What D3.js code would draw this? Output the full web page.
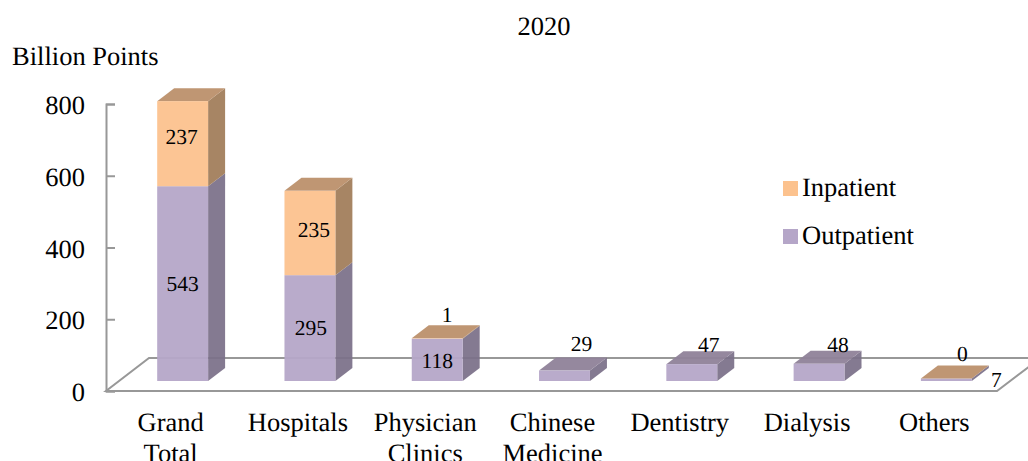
<!DOCTYPE html>
<html><head><meta charset="utf-8">
<script src="https://cdn.jsdelivr.net/npm/d3@7"></script>
<style>html,body{margin:0;padding:0;background:#fff;overflow:hidden}svg{display:block}text{font-family:"Liberation Serif",serif;fill:#000;text-rendering:geometricPrecision}</style>
</head><body><svg id="c" width="1028" height="461"></svg>
<script>
const categories = ["Grand Total","Hospitals","Physician Clinics","Chinese Medicine","Dentistry","Dialysis","Others"];
const outpatient = [543,295,118,29,47,48,7];
const inpatient = [237,235,1,null,null,null,0];
const yTicks = [0,200,400,600,800];
const chartTitle = "2020";
const unitLabel = "Billion Points";

// layout of the labels relative to their default place: [dx, dy]
const outNudge = [[0,0],[1,-1],[0,1],[17,-32],[17,-28],[19,-28],[50,0]];
const inNudge = [[-1,-7],[4,-4],[10,-24],[0,0],[0,0],[0,0],[16,-25]];

const svg = d3.select("#c");
const W=1028, lift=10, dx=17, dy=13;
const y = d3.scaleLinear().domain([0,800]).range([391,104]);
const x = d3.scaleBand().domain(categories).range([119,1010]).paddingInner(0.6).paddingOuter(0.3);
const grey="#989898";

// floor
svg.append("path").attr("fill","none").attr("stroke",grey).attr("stroke-width",2)
  .attr("d",`M${W+5},358H149L106,391H997L${W+2},366`);

// value axis
const ax = svg.append("g").attr("transform","translate(106,0)")
  .call(d3.axisLeft(y).tickValues(yTicks).tickSize(-9).tickPadding(21).tickFormat(d3.format("d")));
ax.selectAll("path,line").attr("stroke",grey).attr("stroke-width",2);
ax.selectAll("text").attr("font-size",26.5).attr("dy","0.36em").style("font-family",'"Liberation Serif",serif').attr("fill","#000");

const colors = {
  out:{front:"#b5a6c8",side:"#7b7089",top:"#8f8299"},
  inn:{front:"#fcc28e",side:"#a07c58",top:"#bc906c"}
};
function box(g,x0,w,yb,yt,c,showTop){
  g.append("path").attr("fill",c.side).attr("fill-opacity",.93)
    .attr("d",`M${x0+w},${yb}l${dx},${-dy}V${yt-dy}l${-dx},${dy}Z`);
  if(showTop) g.append("path").attr("fill",c.top).attr("fill-opacity",.95)
    .attr("d",`M${x0},${yt}l${dx},${-dy}h${w}l${-dx},${dy}Z`);
  g.append("rect").attr("x",x0).attr("y",yt).attr("width",w).attr("height",yb-yt)
    .attr("fill",c.front).attr("fill-opacity",.95);
}
const yb = v => y(v)-lift;
categories.forEach((cat,i)=>{
  const g=svg.append("g"), x0=x(cat), w=x.bandwidth();
  const o=outpatient[i], n=inpatient[i];
  box(g,x0,w,yb(0),yb(o),colors.out,n===null);
  if(n!==null) box(g,x0,w,yb(o),yb(o+n),colors.inn,true);
  const cx=x0+w/2;
  g.append("text").attr("x",cx+outNudge[i][0]).attr("y",(yb(0)+yb(o))/2+outNudge[i][1]).attr("dy","0.35em")
    .attr("text-anchor","middle").attr("font-size",21.5).text(o);
  if(n!==null) g.append("text").attr("x",cx+inNudge[i][0]).attr("y",(yb(o)+yb(o+n))/2+inNudge[i][1]).attr("dy","0.35em")
    .attr("text-anchor","middle").attr("font-size",21.5).text(n);
  cat.split(" ").forEach((t,k)=>{
    svg.append("text").attr("x",cx-12).attr("y",431+k*31).attr("text-anchor","middle").attr("font-size",26.5).text(t);
  });
});

svg.append("text").attr("x",544).attr("y",35).attr("text-anchor","middle").attr("font-size",26.5).text(chartTitle);
svg.append("text").attr("x",12).attr("y",65).attr("font-size",26.5).text(unitLabel);

[["Inpatient",colors.inn.front,188],["Outpatient",colors.out.front,236]].forEach(([t,c,cy])=>{
  svg.append("rect").attr("x",783).attr("y",cy-7).attr("width",15).attr("height",15).attr("fill",c);
  svg.append("text").attr("x",802).attr("y",cy+8).attr("font-size",26.5).text(t);
});
</script></body></html>
